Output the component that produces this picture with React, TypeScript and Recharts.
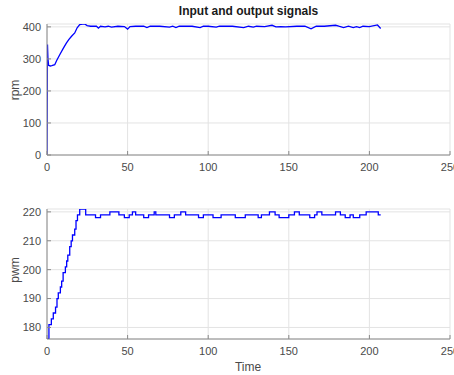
import { LineChart, Line, XAxis, YAxis, CartesianGrid } from 'recharts';

// time (s) and measured speed (rpm)
const rpmTime = [0, 0.3, 0.6, 1, 2, 3, 4.8, 6, 7.9, 10, 12, 13.5, 15.1, 17.2, 18.7, 20.3, 22, 23.4, 24.9, 27, 30.7, 31.9, 33.2, 36, 38, 40, 44, 48, 50, 51.5, 55, 60, 62, 64, 70, 76, 78, 80, 82, 90, 95, 97, 100, 105, 107, 115, 122, 125, 128, 130, 135, 139.6, 142, 145, 148, 155, 160, 163.8, 167, 172, 179, 181, 184, 187, 190, 192, 194, 196, 200, 205, 207];
const rpm = [0, 345, 300, 280, 278, 279, 282, 295, 313, 332, 349, 360, 370, 381, 397, 407, 409, 409, 404, 402, 402, 396, 402, 400, 402, 399, 402, 401, 393, 401, 402, 402, 398, 402, 402, 399, 402, 398, 402, 402, 398, 402, 402, 399, 402, 402, 398, 402, 399, 402, 401, 405, 400, 401, 400, 402, 402, 394, 402, 402, 405, 402, 398, 402, 398, 401, 398, 402, 401, 406, 395];

// time (s) and controller output (pwm), stepped
const pwmTime = [0, 1.2, 2.7, 3.9, 5.3, 6.2, 7, 8.3, 9.1, 10, 11.4, 12.2, 12.9, 14.1, 15, 15.8, 17.2, 18, 18.9, 20.3, 24, 30.1, 33.2, 39, 44.6, 48, 51, 53, 55, 60, 63, 66.5, 67.5, 76, 79, 83, 86, 94, 97, 103, 108, 116.8, 123, 131, 133, 138, 141.5, 144, 150, 153.5, 156.5, 163, 166, 167.5, 170.5, 179, 182, 185, 188, 190, 194, 198, 205.5, 207];
const pwm = [176, 181, 183, 185, 187, 190, 192, 194, 196, 199, 201, 203, 205, 208, 210, 212, 214, 217, 219, 221, 219, 218, 219, 220, 219, 218, 219, 220, 219, 218, 219, 220, 219, 218, 219, 220, 219, 218, 219, 218, 219, 218, 219, 218, 219, 220, 219, 218, 219, 220, 219, 218, 219, 220, 219, 220, 219, 218, 219, 218, 219, 220, 219, 219];

const xTicks = [0, 50, 100, 150, 200, 250];
const rpmTicks = [0, 100, 200, 300, 400];
const pwmTicks = [180, 190, 200, 210, 220];

const rpmData = rpmTime.map((t, i) => ({ t, v: rpm[i] }));
const pwmData = pwmTime.map((t, i) => ({ t, v: pwm[i] }));

const axisColor = '#8a8a8a';
const textColor = '#4a4a4a';
const font = 'Liberation Sans, Arial, sans-serif';
const tickStyle = { fill: textColor, fontSize: 11, fontFamily: font };

function Panel({ data, ticks, domain, height, margin, step }: any) {
  return (
    <LineChart width={454} height={height} data={data} margin={margin}>
      <CartesianGrid stroke="#e3e3e3" xAxisId="b" yAxisId="l" />
      <XAxis xAxisId="b" dataKey="t" type="number" domain={[0, 250]} ticks={xTicks} allowDataOverflow
        stroke={axisColor} tickSize={-4} tickMargin={12} tick={tickStyle} height={20} interval={0} />
      <XAxis xAxisId="top" dataKey="t" type="number" domain={[0, 250]} ticks={xTicks} orientation="top"
        stroke={axisColor} tickSize={-4} tick={false} height={0} />
      <YAxis yAxisId="l" type="number" domain={domain} ticks={ticks} allowDataOverflow
        stroke={axisColor} tickSize={-4} tickMargin={10} tick={tickStyle} width={30} interval={0} />
      <YAxis yAxisId="r" type="number" domain={domain} ticks={ticks} orientation="right"
        stroke={axisColor} tickSize={-4} tick={false} width={0} />
      <Line xAxisId="b" yAxisId="l" dataKey="v" type={step ? 'stepAfter' : 'linear'} stroke="#0000ff"
        strokeWidth={1.3} dot={false} isAnimationActive={false} />
    </LineChart>
  );
}

export default function App() {
  const label: any = { position: 'absolute', color: textColor, fontFamily: font, fontSize: 12 };
  return (
    <div style={{ position: 'fixed', left: 0, top: 0, width: 454, height: 375, overflow: 'hidden', background: '#fff' }}>
      <div style={{ position: 'absolute', left: 0, top: 0 }}>
        <Panel data={rpmData} ticks={rpmTicks} domain={[0, 409]} height={180}
          margin={{ top: 24, right: 4, bottom: 5, left: 17 }} />
      </div>
      <div style={{ position: 'absolute', left: 0, top: 190 }}>
        <Panel data={pwmData} ticks={pwmTicks} domain={[176, 221]} height={185} step
          margin={{ top: 19, right: 4, bottom: 16, left: 17 }} />
      </div>
      <div style={{ ...label, left: 0, width: 497, top: 4, textAlign: 'center', fontWeight: 'bold', color: '#1a1a1a', fontSize: 12 }}>
        Input and output signals
      </div>
      <div style={{ ...label, left: 15, top: 90, transform: 'translate(-50%, -50%) rotate(-90deg)' }}>rpm</div>
      <div style={{ ...label, left: 15, top: 270, transform: 'translate(-50%, -50%) rotate(-90deg)' }}>pwm</div>
      <div style={{ ...label, left: 248, top: 367, transform: 'translate(-50%, -50%)' }}>Time</div>
    </div>
  );
}
